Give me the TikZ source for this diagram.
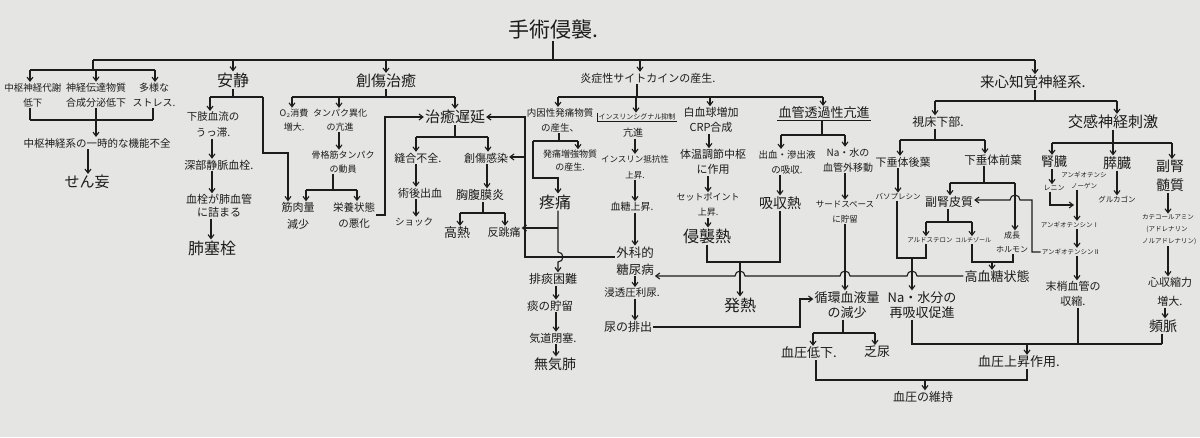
\documentclass[tikz,border=0pt]{standalone}
\usepackage{fontspec}
\setmainfont{Noto Sans CJK JP}
\usetikzlibrary{arrows.meta}
\definecolor{paper}{RGB}{229,229,227}
\definecolor{ink}{RGB}{28,28,28}
\newcommand\fsz[2]{\fontsize{#1}{#2}\selectfont}
\begin{document}
\begin{tikzpicture}[x=1pt,y=-1pt,line width=1.1pt,draw=ink,
  lab/.style={inner sep=0.6pt,align=center,text=ink},
  arr/.style={-{Straight Barb[length=4pt,width=6pt]}}]
\fill[paper] (0,0) rectangle (1200,437);
\useasboundingbox (0,0) rectangle (1200,437);

% ---------- nodes ----------
\node[lab,font=\fsz{21}{24}] (title) at (553,30) {手術侵襲.};
% level 1
\node[lab,font=\fsz{16}{18}] (ansei) at (233,80) {安静};
\node[lab,font=\fsz{15}{17}] (sousho) at (386,81) {創傷治癒};
\node[lab,font=\fsz{11}{13}] (ensho) at (648,78) {炎症性サイトカインの産生.};
\node[lab,font=\fsz{14.5}{17}] (raishin) at (1033,82) {来心知覚神経系.};
% left group
\node[lab,font=\fsz{9.5}{15}] (chuA) at (33,95) {中枢神経代謝\\低下};
\node[lab,font=\fsz{10}{15}] (chuB) at (96,95) {神経伝達物質\\合成分泌低下};
\node[lab,font=\fsz{10}{15}] (chuC) at (154,95) {多様な\\ストレス.};
\node[lab,font=\fsz{10.5}{13}] (kino) at (97,143) {中枢神経系の一時的な機能不全};
\node[lab,font=\fsz{15}{17}] (senmo) at (87,182) {せん妄};
% ansei
\node[lab,font=\fsz{10.5}{16}] (kashi) at (213,125) {下肢血流の\\うっ滞.};
\node[lab,font=\fsz{11}{13}] (shinbu) at (219,165) {深部静脈血栓.};
\node[lab,font=\fsz{11}{13}] (kessen) at (219,206) {血栓が肺血管\\に詰まる};
\node[lab,font=\fsz{16}{18}] (haisoku) at (212,248) {肺塞栓};
% sousho
\node[lab,font=\fsz{9}{14}] (o2) at (294,120) {O$_2$消費\\増大.};
\node[lab,font=\fsz{9}{14}] (tanpaku) at (340,120) {タンパク異化\\の亢進};
\node[lab,font=\fsz{9}{14}] (kokkaku) at (343,162) {骨格筋タンパク\\の動員};
\node[lab,font=\fsz{11}{17}] (kinniku) at (298,216) {筋肉量\\減少};
\node[lab,font=\fsz{10.5}{16}] (eiyo) at (354,215) {栄養状態\\の悪化};
\node[lab,font=\fsz{15}{17}] (chiyu) at (455,117) {治癒遅延};
\node[lab,font=\fsz{11}{13}] (hogo) at (418,158) {縫合不全.};
\node[lab,font=\fsz{11}{13}] (kansen) at (486,158) {創傷感染};
\node[lab,font=\fsz{11}{13}] (jutsugo) at (420,193) {術後出血};
\node[lab,font=\fsz{9.5}{13}] (shock) at (414,222) {ショック};
\node[lab,font=\fsz{12}{14}] (kyofuku) at (480,195) {胸腹膜炎};
\node[lab,font=\fsz{13}{15}] (kounetsu) at (457,233) {高熱};
\node[lab,font=\fsz{11}{13}] (hancho) at (504,232) {反跳痛};
% ensho
\node[lab,font=\fsz{9.5}{15}] (naiin) at (560,120) {内因性発痛物質\\の産生、};
\node[lab,font=\fsz{9}{13}] (hatsuzo) at (570,161) {発痛増強物質\\の産生.};
\node[lab,font=\fsz{16}{18}] (totsu) at (555,202) {疼痛};
\node[lab,font=\fsz{12}{14}] (haitan) at (553,279) {排痰困難};
\node[lab,font=\fsz{11.5}{13}] (tan) at (550,306) {痰の貯留};
\node[lab,font=\fsz{11}{13}] (kido) at (553,338) {気道閉塞.};
\node[lab,font=\fsz{14}{16}] (mukihai) at (555,364) {無気肺};
\node[lab,font=\fsz{7}{9}] (insig) at (637,117) {インスリンシグナル抑制};
\node[lab,font=\fsz{10}{12}] (koushin) at (633,133) {亢進};
\node[lab,font=\fsz{8.5}{16}] (teiko) at (635,167) {インスリン抵抗性\\上昇.};
\node[lab,font=\fsz{10}{12}] (kettou) at (632,207) {血糖上昇.};
\node[lab,font=\fsz{12.5}{17}] (gekateki) at (635,261) {外科的\\糖尿病};
\node[lab,font=\fsz{10.5}{12}] (shinto) at (632,293) {浸透圧利尿.};
\node[lab,font=\fsz{12}{14}] (nyou) at (628,327) {尿の排出};
\node[lab,font=\fsz{11}{15}] (hakke) at (711,120) {白血球増加\\CRP合成};
\node[lab,font=\fsz{11}{15}] (taion) at (713,162) {体温調節中枢\\に作用};
\node[lab,font=\fsz{9}{15}] (setto) at (708,205) {セットポイント\\上昇.};
\node[lab,font=\fsz{16}{18}] (shinshu) at (707,236) {侵襲熱};
\node[lab,font=\fsz{16}{18}] (hatsunetsu) at (740,305) {発熱};
\node[lab,font=\fsz{13}{15}] (kekkan) at (824,113) {血管透過性亢進};
\node[lab,font=\fsz{9.5}{15}] (shukketsu) at (787,162) {出血・滲出液\\の吸収.};
\node[lab,font=\fsz{10}{15}] (na1) at (848,160) {Na・水の\\血管外移動};
\node[lab,font=\fsz{14}{16}] (kyushu) at (780,203) {吸収熱};
\node[lab,font=\fsz{8.5}{15}] (third) at (845,212) {サードスペース\\に貯留};
\node[lab,font=\fsz{13}{15}] (junkan) at (847,305) {循環血液量\\の減少};
\node[lab,font=\fsz{13}{15}] (na2) at (922,305) {Na・水分の\\再吸収促進};
\node[lab,font=\fsz{13}{15}] (teika) at (809,353) {血圧低下.};
\node[lab,font=\fsz{13}{15}] (bonyo) at (877,352) {乏尿};
\node[lab,font=\fsz{12}{14}] (iji) at (923,397) {血圧の維持};
\node[lab,font=\fsz{13}{15}] (joshou) at (1019,362) {血圧上昇作用.};
% raishin
\node[lab,font=\fsz{12}{14}] (shisho) at (938,122) {視床下部.};
\node[lab,font=\fsz{11}{13}] (kouyo) at (903,162) {下垂体後葉};
\node[lab,font=\fsz{11.5}{13}] (zenyo) at (993,160) {下垂体前葉};
\node[lab,font=\fsz{7.5}{10}] (vaso) at (898,197) {バソプレシン};
\node[lab,font=\fsz{12}{14}] (fukujin) at (949,202) {副腎皮質};
\node[lab,font=\fsz{6.5}{9}] (aldo) at (930,240) {アルドステロン};
\node[lab,font=\fsz{6}{9}] (cortisol) at (973,240) {コルチゾール};
\node[lab,font=\fsz{8}{14}] (seicho) at (1012,242) {成長\\ホルモン};
\node[lab,font=\fsz{13}{15}] (kouketsu) at (997,277) {高血糖状態};
\node[lab,font=\fsz{15}{17}] (kokan) at (1113,122) {交感神経刺激};
\node[lab,font=\fsz{13}{15}] (jinzo) at (1054,162) {腎臓};
\node[lab,font=\fsz{7}{9}] (renin) at (1054,188) {レニン};
\node[lab,font=\fsz{6.5}{11}] (angiogen) at (1084,180) {アンギオテンシ\\ノーゲン};
\node[lab,font=\fsz{14}{16}] (suizo) at (1117,163) {膵臓};
\node[lab,font=\fsz{7.5}{9}] (glucagon) at (1117,200) {グルカゴン};
\node[lab,font=\fsz{14}{19}] (fukuzui) at (1170,176) {副腎\\髄質};
\node[lab,font=\fsz{6.5}{12}] (cate) at (1168,230) {カテコールアミン\\(アドレナリン\phantom{)}\\\phantom{(}ノルアドレナリン)};
\node[lab,font=\fsz{11}{19}] (shinshu2) at (1170,292) {心収縮力\\増大.};
\node[lab,font=\fsz{14}{16}] (hinmyaku) at (1163,326) {頻脈};
\node[lab,font=\fsz{6.5}{9}] (angio1) at (1070,225) {アンギオテンシンⅠ};
\node[lab,font=\fsz{6.5}{9}] (angio2) at (1071,252) {アンギオテンシンⅡ};
\node[lab,font=\fsz{11}{15}] (masho) at (1073,294) {末梢血管の\\収縮.};

% ---------- connectors ----------
% top
\draw (title.south) -- (553,60);
\draw (93,60) -- (1035,60);
\draw[arr] (233,60) -- (ansei.north);
\draw[arr] (386,60) -- (sousho.north);
\draw[arr] (640,60) -- (ensho.north -| 640,0);
\draw[arr] (1035,60) -- (raishin.north -| 1035,0);
% left group
\draw (93,60) -- (93,70);
\draw (30,70) -- (155,70);
\draw[arr] (30,70) -- (chuA.north -| 30,0);
\draw[arr] (96,70) -- (chuB.north);
\draw[arr] (155,70) -- (chuC.north -| 155,0);
\draw (chuA.south -| 30,0) -- (30,120);
\draw (chuB.south) -- (96,120);
\draw (chuC.south -| 153,0) -- (153,120);
\draw (30,120) -- (153,120);
\draw[arr] (96,120) -- (kino.north -| 96,0);
\draw[arr] (kino.south -| 88,0) -- (senmo.north -| 88,0);
% ansei
\draw (ansei.south) -- (233,97);
\draw (210,97) -- (263,97);
\draw[arr] (210,97) -- (kashi.north -| 210,0);
\draw[arr] (263,97) -- (263,153) -- (288,153) -- (kinniku.north -| 288,0);
\draw[arr] (kashi.south -| 212,0) -- (shinbu.north -| 212,0);
\draw[arr] (shinbu.south -| 212,0) -- (kessen.north -| 212,0);
\draw[arr] (kessen.south -| 211,0) -- (haisoku.north -| 211,0);
% sousho
\draw (sousho.south) -- (386,97);
\draw (292,97) -- (455,97);
\draw[arr] (292,97) -- (o2.north -| 292,0);
\draw[arr] (339,97) -- (tanpaku.north -| 339,0);
\draw[arr] (455,97) -- (chiyu.north);
\draw[arr] (tanpaku.south -| 339,0) -- (kokkaku.north -| 339,0);
\draw (kokkaku.south -| 333,0) -- (333,190);
\draw (306,190) -- (357,190);
\draw[arr] (306,190) -- (kinniku.north -| 306,0);
\draw[arr] (357,190) -- (eiyo.north -| 357,0);
\draw[arr] (eiyo.east) -| (385,117) -- (chiyu.west);
\draw (chiyu.south) -- (455,137);
\draw (416,137) -- (488,137);
\draw[arr] (416,137) -- (hogo.north -| 416,0);
\draw[arr] (488,137) -- (kansen.north -| 488,0);
\draw[arr] (hogo.south -| 416,0) -- (jutsugo.north -| 416,0);
\draw[arr] (jutsugo.south -| 416,0) -- (shock.north -| 416,0);
\draw[arr] (kansen.south -| 487,0) -- (kyofuku.north -| 487,0);
\draw (kyofuku.south -| 483,0) -- (483,213);
\draw (460,213) -- (505,213);
\draw[arr] (460,213) -- (kounetsu.north -| 460,0);
\draw[arr] (505,213) -- (hancho.north -| 505,0);
% diabetes feedback
\draw[arr] (gekateki.west |- 0,257) -- (525,257) -- (525,117) -- (chiyu.east);
\draw[arr] (525,157) -- (kansen.east |- 0,157);
% ensho branches
\draw (ensho.south -| 637,0) -- (637,97);
\draw (558,97) -- (823,97);
\draw[arr] (558,97) -- (naiin.north -| 558,0);
\draw (naiin.south -| 559,0) -- (559,141);
\draw (533,141) -- (578,141);
\draw[arr] (578,141) -- (hatsuzo.north -| 578,0);
\draw[arr] (533,141) -- (533,178) -- (558,178) -- (totsu.north -| 558,0);
\draw[arr] (totsu.south -| 558,0) -- (558,252) arc[start angle=-90,end angle=90,radius=5] -- (haitan.north -| 558,0);
\draw[arr] (558,228) -- (hancho.east |- 0,228);
\draw[arr] (haitan.south -| 556,0) -- (tan.north -| 556,0);
\draw[arr] (tan.south -| 556,0) -- (kido.north -| 556,0);
\draw[arr] (kido.south -| 556,0) -- (mukihai.north -| 556,0);
% insulin
\draw[arr] (636,97) -- (insig.north -| 636,0);
\draw (insig.north west) -- (insig.south west) -- (insig.south east);
\draw[arr] (koushin.south -| 635,0) -- (teiko.north -| 635,0);
\draw[arr] (teiko.south -| 635,0) -- (kettou.north -| 635,0);
\draw[arr] (kettou.south -| 635,0) -- (gekateki.north -| 635,0);
\draw[arr] (gekateki.south -| 635,0) -- (shinto.north -| 635,0);
\draw[arr] (shinto.south -| 635,0) -- (nyou.north -| 635,0);
\draw[arr] (nyou.east) -| (800,299) -- (junkan.west |- 0,299);
% leukocytes
\draw[arr] (710,97) -- (hakke.north -| 710,0);
\draw[arr] (hakke.south -| 709,0) -- (taion.north -| 709,0);
\draw[arr] (taion.south -| 708,0) -- (setto.north -| 708,0);
\draw[arr] (setto.south -| 708,0) -- (shinshu.north -| 708,0);
\draw (shinshu.south) -- (707,262) -- (780,262) -- (kyushu.south -| 780,0);
\draw[arr] (740,262) -- (hatsunetsu.north);
% vascular permeability
\draw[arr] (823,97) -- (kekkan.north -| 823,0);
\draw (kekkan.south west) -- (kekkan.south east);
\draw (kekkan.south -| 822,0) -- (822,135);
\draw (781,135) -- (845,135);
\draw[arr] (781,135) -- (shukketsu.north -| 781,0);
\draw[arr] (845,135) -- (na1.north -| 845,0);
\draw[arr] (shukketsu.south -| 780,0) -- (kyushu.north);
\draw[arr] (na1.south -| 845,0) -- (third.north -| 845,0);
\draw[arr] (third.south -| 845,0) -- (junkan.north -| 845,0);
% afferent nerves
\draw (raishin.south -| 1035,0) -- (1035,101);
\draw (935,101) -- (1117,101);
\draw[arr] (935,101) -- (shisho.north -| 935,0);
\draw[arr] (1117,101) -- (kokan.north -| 1117,0);
\draw (shisho.south -| 935,0) -- (935,140);
\draw (900,140) -- (985,140);
\draw[arr] (900,140) -- (kouyo.north -| 900,0);
\draw[arr] (985,140) -- (zenyo.north -| 985,0);
\draw[arr] (kouyo.south -| 898,0) -- (vaso.north -| 898,0);
\draw (vaso.south -| 897,0) -- (897,258) -- (926,258) -- (aldo.south -| 926,0);
\draw[arr] (912,258) -- (na2.north -| 912,0);
\draw (zenyo.south -| 984,0) -- (984,183);
\draw (950,183) -- (1015,183);
\draw[arr] (950,183) -- (fukujin.north -| 950,0);
\draw[arr] (1015,183) -- (seicho.north -| 1015,0);
\draw[arr] (angio2.west) -- (1032,0 |- angio2.west) -- (1032,200) -- (1020,200) arc[start angle=0,end angle=-180,radius=5] -- (fukujin.east |- 0,200);
\draw (fukujin.south -| 948,0) -- (948,222);
\draw (926,222) -- (972,222);
\draw[arr] (926,222) -- (aldo.north -| 926,0);
\draw[arr] (972,222) -- (cortisol.north -| 972,0);
\draw (cortisol.south -| 972,0) -- (972,262) -- (1013,262) -- (seicho.south -| 1013,0);
\draw[arr] (992,262) -- (kouketsu.north -| 992,0);
\draw[arr] (kouketsu.west |- 0,276) -- (917,276) arc[start angle=0,end angle=-180,radius=5]
   -- (850,276) arc[start angle=0,end angle=-180,radius=5]
   -- (745,276) arc[start angle=0,end angle=-180,radius=5]
   -- (gekateki.east |- 0,276);
% sympathetic
\draw (kokan.south -| 1113,0) -- (1113,143);
\draw (1052,143) -- (1172,143);
\draw[arr] (1052,143) -- (jinzo.north -| 1052,0);
\draw[arr] (1113,143) -- (suizo.north -| 1113,0);
\draw[arr] (1172,143) -- (fukuzui.north -| 1172,0);
\draw[arr] (jinzo.south -| 1052,0) -- (renin.north -| 1052,0);
\draw[arr] (renin.south -| 1050,0) -- (1050,205) -- (1074,205);
\draw[arr] (angiogen.south -| 1077,0) -- (angio1.north -| 1077,0);
\draw[arr] (angio1.south -| 1077,0) -- (angio2.north -| 1077,0);
\draw[arr] (angio2.south -| 1077,0) -- (masho.north -| 1077,0);
\draw[arr] (suizo.south -| 1117,0) -- (glucagon.north -| 1117,0);
\draw[arr] (fukuzui.south -| 1168,0) -- (cate.north -| 1168,0);
\draw[arr] (cate.south -| 1168,0) -- (shinshu2.north -| 1168,0);
\draw[arr] (shinshu2.south -| 1165,0) -- (hinmyaku.north -| 1165,0);
% bottom
\draw (masho.south -| 1078,0) -- (1078,344);
\draw (hinmyaku.south -| 1162,0) -- (1162,344);
\draw (na2.south -| 912,0) -- (912,344) -- (1162,344);
\draw[arr] (1027,344) -- (joshou.north -| 1027,0);
\draw (junkan.south -| 843,0) -- (843,333);
\draw (813,333) -- (875,333);
\draw[arr] (813,333) -- (teika.north -| 813,0);
\draw[arr] (875,333) -- (bonyo.north -| 875,0);
\draw (teika.south -| 816,0) -- (816,380) -- (1027,380) -- (joshou.south -| 1027,0);
\draw[arr] (925,380) -- (iji.north -| 925,0);
\end{tikzpicture}
\end{document}
